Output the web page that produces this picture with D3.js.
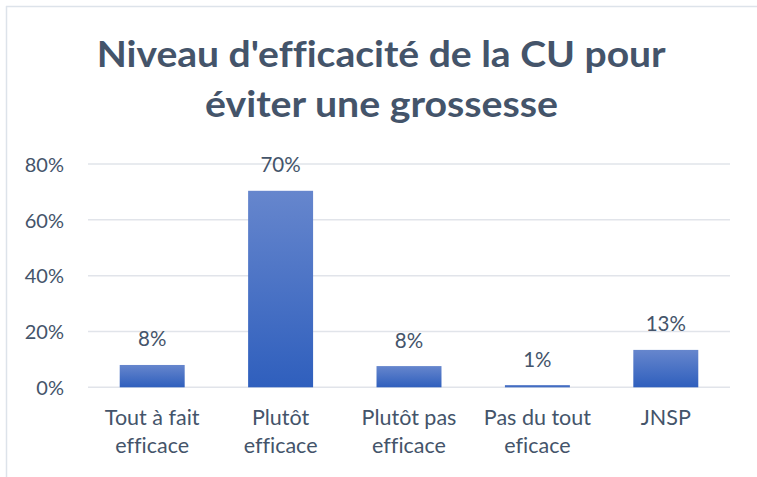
<!DOCTYPE html>
<html><head><meta charset="utf-8">
<script src="https://cdn.jsdelivr.net/npm/d3@7"></script>
<style>body{margin:0;background:#fff}svg{display:block}text{font-variant-ligatures:none}</style>
</head><body>
<script>
const categories = [["Tout à fait","efficace"],["Plutôt","efficace"],["Plutôt pas","efficace"],["Pas du tout","eficace"],["JNSP"]];
const values = [0.08, 0.704, 0.076, 0.008, 0.134];
const valueLabels = ["8%","70%","8%","1%","13%"];
const yTicks = [0, 0.2, 0.4, 0.6, 0.8];
const titleLines = ["Niveau d'efficacité de la CU pour","éviter une grossesse"];

const W = 757, H = 477;
const svg = d3.select("body").append("svg").attr("width", W).attr("height", H);
const FONT = "Lato, 'Open Sans', sans-serif";
const TXT = "#44546A";

// frame
svg.append("line").attr("x1",6).attr("x2",W).attr("y1",6.5).attr("y2",6.5).attr("stroke","#dde3ea").attr("stroke-width",1.5);
svg.append("line").attr("x1",6.5).attr("x2",6.5).attr("y1",6).attr("y2",H).attr("stroke","#dde3ea").attr("stroke-width",1.5);

const defs = svg.append("defs");
const g = defs.append("linearGradient").attr("id","barGrad").attr("x1",0).attr("y1",0).attr("x2",0).attr("y2",1);
g.append("stop").attr("offset","0%").attr("stop-color","#6686cd");
g.append("stop").attr("offset","100%").attr("stop-color","#2f5fbd");

const x = d3.scaleBand().domain(categories.map((c,i)=>i)).range([88, 730]).paddingInner(0.494).paddingOuter(0.247);
const y = d3.scaleLinear().domain([0, 0.8]).range([387.3, 164]);

// title
const tw = [569, 353];
const ty = [67, 117];
const tx = [96.7, 205];
titleLines.forEach((t,i)=>{
  svg.append("text").attr("x", tx[i]).attr("y", ty[i]).text(t)
    .attr("font-family", FONT).attr("font-weight","bold").attr("font-size", 36)
    .attr("fill", TXT).attr("textLength", tw[i]).attr("lengthAdjust","spacingAndGlyphs");
});

// gridlines
svg.append("g").selectAll("line").data(yTicks).join("line")
  .attr("x1", 88).attr("x2", 730).attr("y1", d=>y(d)).attr("y2", d=>y(d))
  .attr("stroke", "#e1e4ea").attr("stroke-width", 1.5);

// y axis labels
const yAxis = d3.axisLeft(y).tickValues(yTicks).tickFormat(d3.format(".0%")).tickSize(0).tickPadding(0);
const ya = svg.append("g").attr("transform","translate(64,0)").call(yAxis);
ya.select(".domain").remove();
ya.selectAll("text").attr("font-family", FONT).attr("font-size", 20).attr("fill", TXT).attr("dy","0.36em");

// bars
svg.append("g").selectAll("rect").data(values).join("rect")
  .attr("x", (d,i)=>x(i)).attr("width", x.bandwidth())
  .attr("y", d=>y(d)).attr("height", d=>y(0)-y(d))
  .attr("fill","url(#barGrad)");

// value labels
svg.append("g").selectAll("text").data(values).join("text")
  .attr("x", (d,i)=>x(i)+x.bandwidth()/2).attr("y", d=>y(d)-18.5)
  .attr("text-anchor","middle").attr("font-family", FONT).attr("font-size", 20.5).attr("fill", TXT)
  .text((d,i)=>valueLabels[i]);

// category labels
const xa = svg.append("g");
categories.forEach((lines,i)=>{
  const t = xa.append("text").attr("text-anchor","middle").attr("font-family", FONT).attr("font-size", 21.5).attr("fill", TXT);
  lines.forEach((l,j)=>{
    t.append("tspan").attr("x", x(i)+x.bandwidth()/2).attr("y", 425 + j*27.5).text(l);
  });
});
</script>
</body></html>
